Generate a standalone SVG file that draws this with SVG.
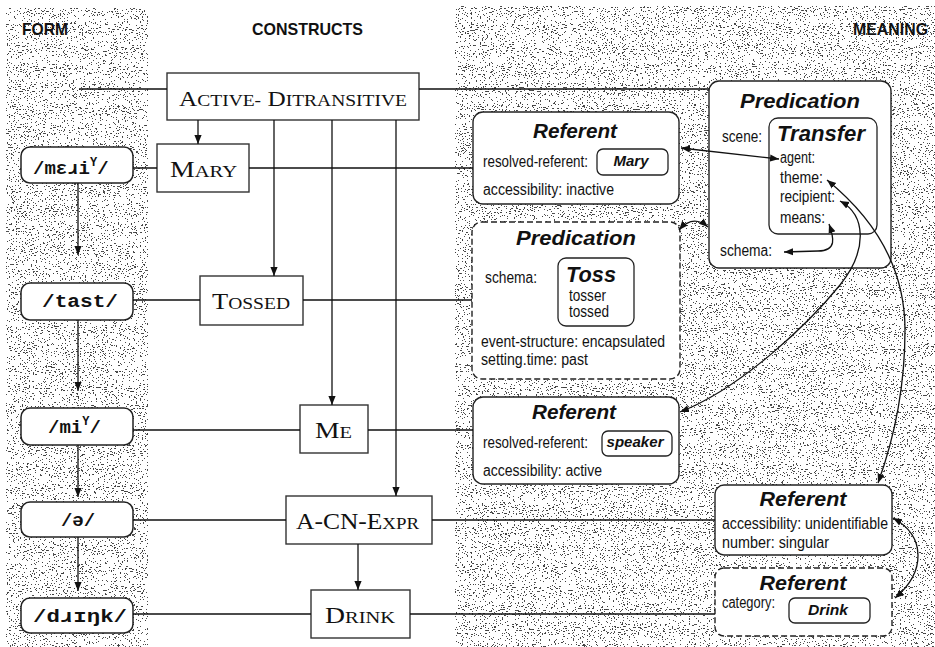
<svg xmlns="http://www.w3.org/2000/svg" width="935" height="647" viewBox="0 0 935 647">
  <defs>
    <filter id="grain" x="0" y="0" width="1" height="1" color-interpolation-filters="sRGB">
      <feTurbulence type="fractalNoise" baseFrequency="0.55 0.95" numOctaves="2" seed="7" result="n"/>
      <feColorMatrix in="n" type="matrix" values="0 0 0 0 0.15  0 0 0 0 0.15  0 0 0 0 0.15  1 0 0 0 0"/>
      <feComponentTransfer>
        <feFuncA type="discrete" tableValues="0 0 0 0 0 0 0 0 0 0 0 0 0 0 0 0 0.8 0.85 0.9 0.9 0.9 0.9 0.9 0.9 0.9"/>
      </feComponentTransfer>
    </filter>
    <marker id="ah" viewBox="0 0 10 10" refX="10" refY="5" markerWidth="9" markerHeight="9" markerUnits="userSpaceOnUse" orient="auto-start-reverse">
      <path d="M0,1 L10,5 L0,9 Z" fill="#111"/>
    </marker>
    <style>
      .hdr { font-family: "Liberation Sans", Arial, sans-serif; font-weight: bold; font-size: 17px; fill: #111; }
      .frm { font-family: "Liberation Mono", "DejaVu Sans Mono", monospace; font-weight: bold; font-size: 19px; fill: #111; }
      .cs { font-family: "Liberation Serif", "Times New Roman", serif; fill: #111; }
      .ttl { font-family: "Liberation Sans", Arial, sans-serif; font-weight: bold; font-style: italic; fill: #111; }
      .lbl { font-family: "Liberation Sans", Arial, sans-serif; font-size: 16px; fill: #111; }
      .fbox { fill: #fff; stroke: #222; stroke-width: 1.5; }
      .cbox { fill: #fff; stroke: #333; stroke-width: 1.4; }
      .mbox { fill: #fff; stroke: #222; stroke-width: 1.4; }
      .dbox { fill: #fff; stroke: #222; stroke-width: 1.4; stroke-dasharray: 6 3; }
      .vbox { fill: #fff; stroke: #222; stroke-width: 1.3; }
      .ln { fill: none; stroke: #111; stroke-width: 1.3; }
      .arr { fill: none; stroke: #111; stroke-width: 1.3; marker-end: url(#ah); }
      .arr2 { fill: none; stroke: #111; stroke-width: 1.3; marker-start: url(#ah); marker-end: url(#ah); }
    </style>
  </defs>

  <!-- page and shaded columns -->
  <rect width="935" height="647" fill="#fff"/>
  <rect x="6" y="8" width="142" height="639" fill="#000" filter="url(#grain)"/>
  <rect x="455" y="6" width="480" height="641" fill="#000" filter="url(#grain)"/>

  <!-- column headings -->
  <text class="hdr" x="22" y="35" textLength="46" lengthAdjust="spacingAndGlyphs">FORM</text>
  <text class="hdr" x="252" y="35" textLength="111" lengthAdjust="spacingAndGlyphs">CONSTRUCTS</text>
  <text class="hdr" x="853" y="35" textLength="75" lengthAdjust="spacingAndGlyphs">MEANING</text>

  <!-- form nodes -->
  <g id="form-mary">
    <rect class="fbox" x="21" y="147" width="112" height="36" rx="9"/>
    <text class="frm" x="33" y="174">/mɛɹi<tspan font-size="12" dy="-8">Y</tspan><tspan dy="8">/</tspan></text>
  </g>
  <g id="form-tossed">
    <rect class="fbox" x="21" y="283" width="112" height="37" rx="9"/>
    <text class="frm" x="80" y="307" text-anchor="middle" textLength="76" lengthAdjust="spacingAndGlyphs">/tast/</text>
  </g>
  <g id="form-me">
    <rect class="fbox" x="21" y="408" width="112" height="37" rx="9"/>
    <text class="frm" x="48" y="433">/mi<tspan font-size="12" dy="-8">Y</tspan><tspan dy="8">/</tspan></text>
  </g>
  <g id="form-a">
    <rect class="fbox" x="21" y="502" width="112" height="35" rx="9"/>
    <text class="frm" x="78" y="526" text-anchor="middle">/ə/</text>
  </g>
  <g id="form-drink">
    <rect class="fbox" x="21" y="598" width="112" height="35" rx="9"/>
    <text class="frm" x="80" y="622" text-anchor="middle" textLength="94" lengthAdjust="spacingAndGlyphs">/dɹɪŋk/</text>
  </g>

  <!-- construct nodes -->
  <g id="active-ditransitive">
    <rect class="cbox" x="167" y="73" width="252" height="47"/>
    <text class="cs" x="179" y="106" textLength="228" lengthAdjust="spacingAndGlyphs"><tspan font-size="22">A</tspan><tspan font-size="17">CTIVE-</tspan><tspan font-size="22"> D</tspan><tspan font-size="17">ITRANSITIVE</tspan></text>
  </g>
  <g id="mary">
    <rect class="cbox" x="157" y="144" width="92" height="48"/>
    <text class="cs" x="170" y="177" textLength="67" lengthAdjust="spacingAndGlyphs"><tspan font-size="23">M</tspan><tspan font-size="17">ARY</tspan></text>
  </g>
  <g id="tossed">
    <rect class="cbox" x="200" y="276" width="103" height="49"/>
    <text class="cs" x="212" y="309" textLength="78" lengthAdjust="spacingAndGlyphs"><tspan font-size="23">T</tspan><tspan font-size="17">OSSED</tspan></text>
  </g>
  <g id="me">
    <rect class="cbox" x="300" y="405" width="68" height="48"/>
    <text class="cs" x="315" y="438" textLength="37" lengthAdjust="spacingAndGlyphs"><tspan font-size="23">M</tspan><tspan font-size="17">E</tspan></text>
  </g>
  <g id="a-cn-expr">
    <rect class="cbox" x="286" y="496" width="146" height="48"/>
    <text class="cs" x="296" y="529" textLength="123" lengthAdjust="spacingAndGlyphs"><tspan font-size="23">A-CN-E</tspan><tspan font-size="17">XPR</tspan></text>
  </g>
  <g id="drink">
    <rect class="cbox" x="311" y="590" width="99" height="48"/>
    <text class="cs" x="325" y="623" textLength="70" lengthAdjust="spacingAndGlyphs"><tspan font-size="23">D</tspan><tspan font-size="17">RINK</tspan></text>
  </g>

  <!-- meaning nodes -->
  <g id="predication-transfer">
    <rect class="mbox" x="709" y="81" width="182" height="187" rx="10"/>
    <text class="ttl" x="800" y="108" font-size="21" text-anchor="middle" textLength="120" lengthAdjust="spacingAndGlyphs">Predication</text>
    <text class="lbl" x="722" y="142" textLength="40" lengthAdjust="spacingAndGlyphs">scene:</text>
    <rect class="vbox" x="769" y="118" width="108" height="116" rx="9"/>
    <text class="ttl" x="777" y="141" font-size="22" textLength="88" lengthAdjust="spacingAndGlyphs">Transfer</text>
    <text class="lbl" x="780" y="163" textLength="35" lengthAdjust="spacingAndGlyphs">agent:</text>
    <text class="lbl" x="780" y="183" textLength="43" lengthAdjust="spacingAndGlyphs">theme:</text>
    <text class="lbl" x="780" y="202" textLength="55" lengthAdjust="spacingAndGlyphs">recipient:</text>
    <text class="lbl" x="780" y="223" textLength="45" lengthAdjust="spacingAndGlyphs">means:</text>
    <text class="lbl" x="720" y="256" textLength="52" lengthAdjust="spacingAndGlyphs">schema:</text>
  </g>
  <g id="referent-mary">
    <rect class="mbox" x="473" y="112" width="206" height="92" rx="10"/>
    <text class="ttl" x="575" y="138" font-size="21" text-anchor="middle" textLength="84" lengthAdjust="spacingAndGlyphs">Referent</text>
    <text class="lbl" x="483" y="167" textLength="105" lengthAdjust="spacingAndGlyphs">resolved-referent:</text>
    <rect class="vbox" x="597" y="149" width="71" height="26" rx="6"/>
    <text class="ttl" x="631" y="166" font-size="15" text-anchor="middle" textLength="35" lengthAdjust="spacingAndGlyphs">Mary</text>
    <text class="lbl" x="483" y="195" textLength="131" lengthAdjust="spacingAndGlyphs">accessibility:  inactive</text>
  </g>
  <g id="predication-toss">
    <rect class="dbox" x="472" y="222" width="208" height="157" rx="10"/>
    <text class="ttl" x="576" y="245" font-size="21" text-anchor="middle" textLength="120" lengthAdjust="spacingAndGlyphs">Predication</text>
    <text class="lbl" x="485" y="283" textLength="52" lengthAdjust="spacingAndGlyphs">schema:</text>
    <rect class="vbox" x="558" y="258" width="76" height="68" rx="8"/>
    <text class="ttl" x="566" y="282" font-size="22" textLength="50" lengthAdjust="spacingAndGlyphs">Toss</text>
    <text class="lbl" x="569" y="301" textLength="37" lengthAdjust="spacingAndGlyphs">tosser</text>
    <text class="lbl" x="569" y="317" textLength="40" lengthAdjust="spacingAndGlyphs">tossed</text>
    <text class="lbl" x="481" y="347" textLength="184" lengthAdjust="spacingAndGlyphs">event-structure:  encapsulated</text>
    <text class="lbl" x="481" y="365" textLength="107" lengthAdjust="spacingAndGlyphs">setting.time:  past</text>
  </g>
  <g id="referent-speaker">
    <rect class="mbox" x="473" y="397" width="206" height="87" rx="10"/>
    <text class="ttl" x="574" y="419" font-size="21" text-anchor="middle" textLength="84" lengthAdjust="spacingAndGlyphs">Referent</text>
    <text class="lbl" x="483" y="448" textLength="105" lengthAdjust="spacingAndGlyphs">resolved-referent:</text>
    <rect class="vbox" x="602" y="431" width="70" height="25" rx="6"/>
    <text class="ttl" x="635" y="447" font-size="15" text-anchor="middle" textLength="57" lengthAdjust="spacingAndGlyphs">speaker</text>
    <text class="lbl" x="483" y="476" textLength="119" lengthAdjust="spacingAndGlyphs">accessibility:  active</text>
  </g>
  <g id="referent-unidentifiable">
    <rect class="mbox" x="715" y="485" width="177" height="70" rx="9"/>
    <text class="ttl" x="803" y="506" font-size="21" text-anchor="middle" textLength="87" lengthAdjust="spacingAndGlyphs">Referent</text>
    <text class="lbl" x="722" y="529" textLength="166" lengthAdjust="spacingAndGlyphs">accessibility:  unidentifiable</text>
    <text class="lbl" x="722" y="548" textLength="107" lengthAdjust="spacingAndGlyphs">number:  singular</text>
  </g>
  <g id="referent-drink">
    <rect class="dbox" x="715" y="568" width="177" height="68" rx="9"/>
    <text class="ttl" x="803" y="590" font-size="21" text-anchor="middle" textLength="87" lengthAdjust="spacingAndGlyphs">Referent</text>
    <text class="lbl" x="722" y="608" textLength="53" lengthAdjust="spacingAndGlyphs">category:</text>
    <rect class="vbox" x="789" y="598" width="81" height="25" rx="6"/>
    <text class="ttl" x="828" y="615" font-size="15" text-anchor="middle" textLength="40" lengthAdjust="spacingAndGlyphs">Drink</text>
  </g>

  <!-- connectors -->
  <g id="connectors">
    <!-- form sequence -->
    <path class="arr" d="M78 183 V255"/>
    <path class="arr" d="M78 320 V391"/>
    <path class="arr" d="M78 445 V497"/>
    <path class="arr" d="M78 537 V591"/>
    <!-- form to construct to meaning rows -->
    <path class="ln" d="M79 89 H167 M419 89 H709"/>
    <path class="ln" d="M133 168 H157 M249 168 H473"/>
    <path class="ln" d="M133 300 H200 M303 300 H472"/>
    <path class="ln" d="M133 430 H300 M368 430 H473"/>
    <path class="ln" d="M133 520 H286 M432 520 H715"/>
    <path class="ln" d="M133 614 H311 M410 614 H715"/>
    <!-- constituent links -->
    <path class="arr" d="M198 120 V144"/>
    <path class="arr" d="M274 120 V276"/>
    <path class="arr" d="M332 120 V405"/>
    <path class="arr" d="M396 120 V496"/>
    <path class="arr" d="M358 544 V590"/>
    <!-- role bindings -->
    <path class="arr2" d="M681 148 L779 159"/>
    <path class="arr2" d="M679 230 Q693 214 708 227"/>
    <path class="arr2" d="M829 224 C834 238 837 251 818 251 L784 252"/>
    <path class="arr2" d="M840 201 C866 215 868 250 840 285 C810 322 742 388 680 412"/>
    <path class="arr2" d="M827 180 C870 215 905 262 905 330 C905 400 890 450 878 483"/>
    <path class="arr2" d="M893 518 C926 536 926 572 895 598"/>
  </g>
</svg>
